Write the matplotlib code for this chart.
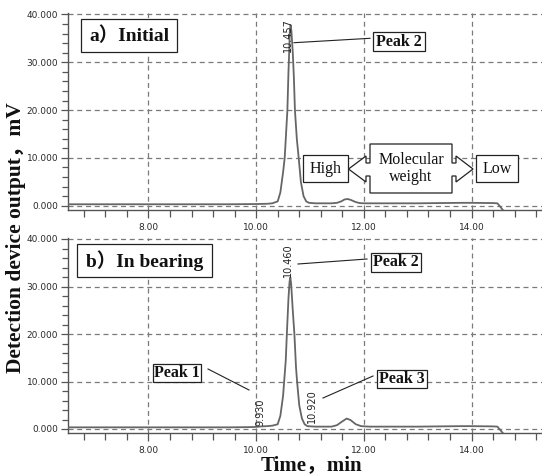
import matplotlib
matplotlib.use("Agg")
import matplotlib.pyplot as plt
from matplotlib.patches import Rectangle, Polygon
from matplotlib.lines import Line2D
from matplotlib.ticker import MultipleLocator, FormatStrFormatter

# ---------------- data ----------------
top_time = [6.5, 7.5, 8.5, 9.5, 10.0, 10.2, 10.3, 10.4, 10.45, 10.5, 10.53, 10.555,
            10.58, 10.6, 10.61, 10.625, 10.64, 10.655, 10.68, 10.7, 10.72, 10.755,
            10.79, 10.83, 10.88, 10.93, 10.98, 11.1, 11.4, 11.5, 11.58, 11.64, 11.7,
            11.76, 11.84, 11.92, 12.0, 13.0, 13.8, 14.0, 14.4, 14.48, 14.54, 14.58]
top_signal = [0.3, 0.3, 0.3, 0.3, 0.35, 0.4, 0.5, 0.9, 2.8, 7.0, 10.0, 15.0,
              20.0, 28.0, 31.0, 36.5, 37.8, 36.5, 32.0, 27.0, 20.0, 14.0,
              10.0, 5.0, 2.0, 0.9, 0.6, 0.5, 0.5, 0.6, 0.9, 1.3, 1.4,
              1.2, 0.8, 0.55, 0.5, 0.5, 0.6, 0.6, 0.55, 0.5, -0.3, -0.9]

bot_time = [6.5, 7.5, 8.5, 9.5, 9.9, 10.0, 10.1, 10.2, 10.3, 10.4, 10.45, 10.5,
            10.52, 10.55, 10.57, 10.6, 10.62, 10.635, 10.65, 10.68, 10.71, 10.74,
            10.76, 10.8, 10.85, 10.9, 10.95, 11.1, 11.4, 11.5, 11.6, 11.68, 11.75,
            11.85, 11.95, 12.1, 13.0, 13.8, 14.0, 14.4, 14.48, 14.54, 14.58]
bot_signal = [0.35, 0.35, 0.35, 0.35, 0.4, 0.45, 0.55, 0.6, 0.7, 1.0, 2.8, 7.0,
              10.0, 14.5, 20.0, 27.5, 31.0, 31.9, 30.5, 25.0, 20.0, 13.0,
              10.0, 5.0, 2.2, 1.0, 0.6, 0.5, 0.5, 0.8, 1.6, 2.2, 1.9,
              1.0, 0.6, 0.5, 0.5, 0.6, 0.6, 0.55, 0.5, -0.3, -0.84]

x_ticks = [8, 10, 12, 14]
y_ticks = [0, 10, 20, 30, 40]

# ---------------- figure ----------------
W, H = 542, 475
fig = plt.figure(figsize=(W / 100, H / 100), dpi=100)

def fx(x):
    return x / W

def fy(y):
    return 1 - y / H

SERIF = ["Liberation Serif", "Noto Sans CJK SC", "DejaVu Sans"]
GRID = "#7a7a7a"
CURVE = "#666666"

x_left, x_right = 6.506, 15.308


def make_axes(bottom_px, top_px, ymin, ymax, t, v):
    ax = fig.add_axes([fx(68), fy(bottom_px), 1 - fx(68), (bottom_px - top_px) / H])
    ax.plot(t, v, color=CURVE, lw=1.3, zorder=3)
    ax.set_xlim(x_left, x_right)
    ax.set_ylim(ymin, ymax)
    ax.set_xticks(x_ticks)
    ax.set_yticks(y_ticks)
    ax.xaxis.set_minor_locator(MultipleLocator(0.4))
    ax.yaxis.set_minor_locator(MultipleLocator(2))
    ax.xaxis.set_major_formatter(FormatStrFormatter("%.2f"))
    ax.yaxis.set_major_formatter(FormatStrFormatter("%.3f"))
    for s in ("top", "right"):
        ax.spines[s].set_visible(False)
    for s in ("left", "bottom"):
        ax.spines[s].set_color("#555555")
        ax.spines[s].set_linewidth(1.0)
    ax.grid(True, which="major", color=GRID, lw=0.9, linestyle=(0, (4, 3)))
    ax.tick_params(axis="both", which="both", direction="out", colors="#555555",
                   labelcolor="#2a2a2a", labelsize=6.5)
    ax.tick_params(axis="x", which="major", length=6, width=0.9, pad=3.5)
    ax.tick_params(axis="x", which="minor", length=5, width=0.9)
    ax.tick_params(axis="y", which="major", length=5, width=0.9, pad=2)
    ax.tick_params(axis="y", which="minor", length=4, width=0.9)
    for lab in ax.get_xticklabels() + ax.get_yticklabels():
        lab.set_family("DejaVu Sans")
    ax.patch.set_alpha(0)
    return ax

# top axes: 40 at y=14.5 px, 0 at 205.7 px, axis line at 210 px
u1 = 40 / (205.7 - 14.5)
ax1 = make_axes(210, 13, -(210 - 205.7) * u1, 40 + 1.5 * u1, top_time, top_signal)
# bottom axes: 40 at 239 px, 0 at 429 px, axis line at 433 px
u2 = 40 / (429 - 239)
ax2 = make_axes(433, 237.5, -(433 - 429) * u2, 40 + 1.5 * u2, bot_time, bot_signal)


def box(x0, y0, x1, y1, text, size, bold=True, lw=0.9):
    fig.add_artist(Rectangle((fx(x0), fy(y1)), fx(x1 - x0), (y1 - y0) / H,
                             transform=fig.transFigure, fill=True, facecolor="white",
                             edgecolor="#222222", lw=lw, zorder=5))
    fig.text(fx((x0 + x1) / 2), fy((y0 + y1) / 2), text, ha="center", va="center",
             family=SERIF, fontsize=size, fontweight="bold" if bold else "normal",
             color="#111111", zorder=6)


def leader(x0, y0, x1, y1):
    fig.add_artist(Line2D([fx(x0), fx(x1)], [fy(y0), fy(y1)], transform=fig.transFigure,
                          color="#222222", lw=0.8, zorder=5))


def rt_label(x, y, text):
    fig.text(fx(x), fy(y), text, rotation=90, ha="center", va="center",
             family="DejaVu Sans", fontsize=7, color="#222222", zorder=6)

# ---- top panel annotations
box(81, 19, 177, 52, "a）Initial", 14)
box(373, 32, 425, 51, "Peak 2", 11.5)
leader(294, 42.7, 370, 38.3)
rt_label(288, 35, "10.457")

box(303, 155, 348, 182, "High", 11.5, bold=False)
box(476, 155, 518, 182, "Low", 11.5, bold=False)
arrow_pts = [(348.5, 169), (366, 156), (366, 163), (370, 163), (370, 144), (452, 144),
             (452, 163), (456, 163), (456, 156), (473, 169), (456, 182), (456, 176),
             (452, 176), (452, 193), (370, 193), (370, 176), (366, 176), (366, 182)]
fig.add_artist(Polygon([(fx(a), fy(b)) for a, b in arrow_pts], closed=True,
                       transform=fig.transFigure, facecolor="white", edgecolor="#222222",
                       lw=0.9, zorder=5))
fig.text(fx(411), fy(168.5), "Molecular\nweight", ha="center", va="center",
         family=SERIF, fontsize=11.5, linespacing=1.05, color="#111111", zorder=6)

# ---- bottom panel annotations
box(77, 244, 212, 277, "b）In bearing", 14)
box(371, 253, 421, 272, "Peak 2", 11.5)
leader(298, 264, 367, 259)
box(153, 364, 201, 382, "Peak 1", 11.5)
leader(208, 369, 249, 390)
box(377, 370, 427, 388, "Peak 3", 11.5)
leader(323, 398, 373, 376)
rt_label(288, 260, "10.460")
rt_label(260, 412, "9.930")
rt_label(311.5, 406.5, "10.920")

# ---- axis titles
fig.text(fx(16), fy(238), "Detection device output，mV", rotation=90, ha="center",
         va="center", family=SERIF, fontsize=15.5, fontweight="bold", color="#111111")
fig.text(fx(311), fy(465.5), "Time，min", ha="center", va="center",
         family=SERIF, fontsize=15, fontweight="bold", color="#111111")

fig.savefig("out.png", dpi=100)
